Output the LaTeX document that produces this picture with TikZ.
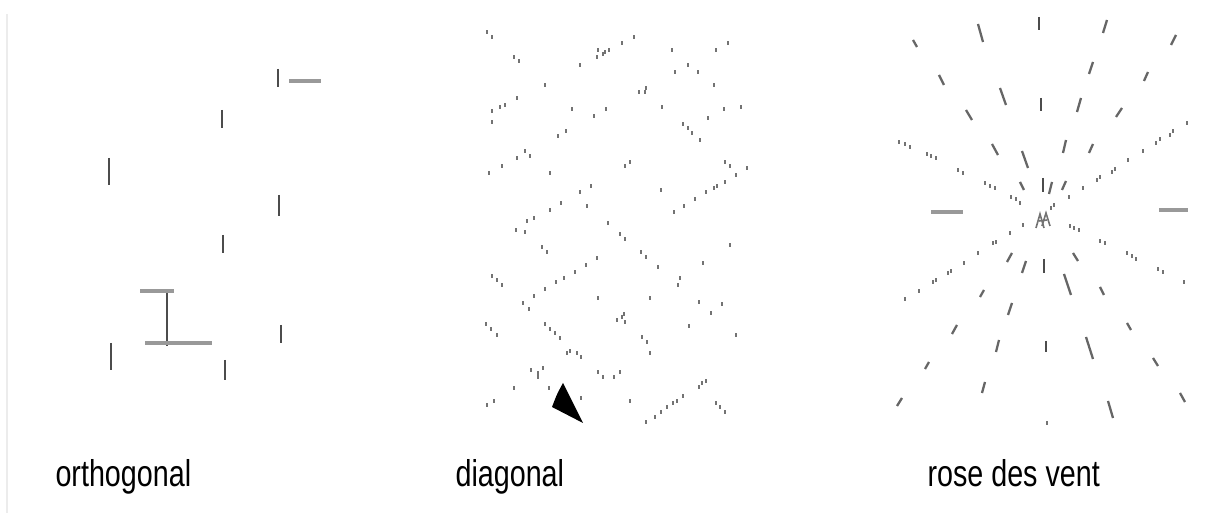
\documentclass[tikz,border=0pt]{standalone}
\usepackage{fontspec}
\setmainfont{Liberation Sans}
\usepackage{tikz}
\tikzset{
  edg/.style={gray!15,line width=0.6pt},
  mk/.style={black!70,line width=0.6pt},
  bar/.style={gray!80,line width=1.1pt},
  dt/.style={black!55,line width=0.45pt},
  dsh/.style={black!60,line width=0.65pt},
  dshb/.style={black!70,line width=0.85pt},
  lbl/.style={anchor=base west,inner sep=0pt,font=\fontsize{10.6pt}{12pt}\selectfont,xscale=0.77,transform shape}
}

\begin{document}
\begin{tikzpicture}[x=0.01cm,y=-0.01cm]
\useasboundingbox (0,0) rectangle (1214,513);
\draw[edg] (7,14) -- (7,513);
% orthogonal
\foreach \xa/\ya/\xb/\yb in {278/69/278/87,222/110/222/128,109/158/109/185,279/195/279/216,
  223/235/223/253,111/343/111/370,225/360/225/380,281/325/281/343,167/293/167/346}
  \draw[mk] (\xa,\ya) -- (\xb,\yb);
\draw[bar] (289,81) -- (321,81);
\draw[bar] (140,291) -- (174,291);
\draw[bar] (145,343) -- (212,343);
% diagonal
\foreach \p in {(487,32),(492,37),(514,57),(519,61),(580,65),(598,50),(597,57),(603,54),(605,52),(609,50),
  (622,43),(634,37),(672,50),(716,50),(728,43),(675,72),(688,65),(698,72),(714,85),(545,85),(639,92),
  (646,88),(645,92),(517,98),(492,111),(500,107),(505,105),(492,122),(572,109),(606,109),(594,116),
  (662,107),(724,109),(741,107),(708,118),(558,136),(566,131),(683,124),(688,128),(692,133),(700,140),
  (517,158),(525,151),(530,156),(489,173),(502,166),(550,173),(625,166),(630,162),(725,162),(730,166),
  (747,168),(736,175),(725,182),(717,186),(714,188),(706,192),(695,199),(684,206),(674,212),(661,190),
  (580,192),(591,186),(587,206),(561,203),(550,210),(534,218),(527,221),
  (516,230),(525,232),(608,223),(620,234),(625,239),(542,247),(547,252),(597,258),(586,265),(575,272),
  (564,278),(556,282),(545,289),(534,296),(523,303),(529,309),(641,252),(646,257),(658,267),(703,263),
  (730,245),(680,278),(678,285),(492,276),(497,280),(502,285),(598,298),(650,298),(699,302),(722,304),
  (711,313),(486,324),(491,329),(497,335),(545,324),(550,329),(555,333),(560,338),(617,320),(622,317),
  (624,314),(625,322),(689,326),(736,335),(642,337),(647,342),(650,353),(567,353),(570,351),(577,353),
  (581,357),(531,370),(538,373),(538,377),(543,368),(598,372),(603,377),(614,377),(620,372),(514,388),
  (549,388),(581,398),(630,401),(487,405),(494,401),(699,387),(702,383),(706,381),(683,396),(677,401),
  (673,403),(667,407),(661,412),(655,417),(646,422),(716,403),(720,407),(725,412)}
  \draw[dt] \p ++(0,-1.6) -- ++(0,3.2);
\fill[black] (563,383) .. controls (557,394) .. (552,407) -- (583,423) -- cycle;
% rose des vent
\foreach \xa/\ya/\xb/\yb in {913/40/917/47,978/24/983/42,1107/20/1103/33,1176/35/1171/45,939/75/944/85,
  1000/88/1006/105,1093/62/1089/74,1148/72/1144/81,966/110/972/120,1081/98/1077/112,1122/108/1116/117,
  992/144/998/155,1022/151/1028/168,1066/140/1063/153,1093/144/1089/153,1020/182/1024/190,
  1052/182/1049/194,1066/181/1062/190,1007/262/1012/253,1022/273/1026/261,1073/253/1078/261,
  1064/274/1071/295,980/297/984/290,1100/287/1104/295,1008/315/1012/303,952/334/957/325,
  1127/323/1131/330,996/352/999/340,1086/337/1093/359,925/369/929/362,1153/358/1158/366,
  982/393/985/382,897/406/902/398,1108/401/1113/418,1180/393/1185/402}
  \draw[dsh] (\xa,\ya) -- (\xb,\yb);
\foreach \xa/\ya/\xb/\yb in {1039/17/1039/30,1041/98/1041/111,1043/178/1043/192,1044/259/1044/273,1046/341/1046/352}
  \draw[dshb] (\xa,\ya) -- (\xb,\yb);
\draw[bar] (931,212) -- (963,212);
\draw[bar] (1159,210) -- (1188,210);
\foreach \p in {(899,142),(905,144),(910,147),(927,154),(931,156),(936,158),(958,170),(963,173),(985,183),
  (990,186),(995,188),(1011,197),(1016,199),(1020,203),(1187,123),(1173,131),(1170,135),(1160,139),
  (1156,143),(1143,151),(1128,160),(1115,169),(1112,172),(1100,177),(1097,180),(1083,188),(1069,197),
  (1054,205),(1051,208),(1023,225),(1010,233),(993,243),(996,242),(978,253),(964,263),(948,273),
  (951,271),(933,282),(936,280),(919,291),(905,299),(1070,226),(1074,228),(1079,230),(1100,241),
  (1105,243),(1127,253),(1132,256),(1136,259),(1158,269),(1163,272),(1184,282),(1047,423)}
  \draw[dt] \p ++(0,-1.6) -- ++(0,3.2);
\draw[dt] (1036,228) -- (1040,214) -- (1044,228);
\draw[dt] (1042,226) -- (1046,213) -- (1050,226);
\draw[dt] (1039,221) -- (1047,220);
% labels
\node[lbl] (lblortho) at (55,487) {orthogonal};
\node[lbl] (lbldiag) at (455,487) {diagonal};
\node[lbl] (lblrose) at (927,487) {rose des vent};
\end{tikzpicture}
\end{document}
